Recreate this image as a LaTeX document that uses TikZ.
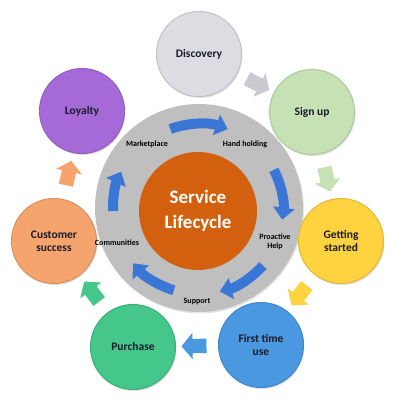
\documentclass[tikz,border=0pt]{standalone}
\usepackage{fontspec}
\setmainfont{Carlito}
\usetikzlibrary{arrows.meta,shapes.arrows,shadows,calc}

\definecolor{discfill}{HTML}{DCDCE2}
\definecolor{signfill}{HTML}{C6E2B5}
\definecolor{startfill}{HTML}{FFD23F}
\definecolor{firstfill}{HTML}{4A98E0}
\definecolor{purchfill}{HTML}{45C68A}
\definecolor{succfill}{HTML}{F6A46E}
\definecolor{loyfill}{HTML}{A56AD8}
\definecolor{ringgray}{HTML}{BFBFBF}
\definecolor{corefill}{HTML}{D2600E}
\definecolor{cycblue}{HTML}{3A76D6}
\definecolor{stagetext}{HTML}{1B1B2A}

\begin{document}
\begin{tikzpicture}[
  x=1pt, y=1pt,
  stage/.style={circle, minimum size=85pt, inner sep=0pt, align=center, line width=1pt,
    font=\fontsize{11.5}{13}\selectfont\bfseries, text=stagetext,
    drop shadow={shadow xshift=1pt, shadow yshift=-1.5pt, opacity=0.25}},
  flow/.style={single arrow, single arrow head extend=6pt, single arrow tip angle=100,
    text height=7pt, text depth=7pt, text width=0pt,
    minimum height=25pt, inner sep=0pt, sloped, allow upside down},
  cyc/.style={line width=10pt, draw=cycblue, -{Triangle[width=21pt, length=12pt]}},
  phase/.style={align=center, font=\fontsize{8}{8.5}\selectfont\bfseries, text=black},
]
  \path[use as bounding box, fill=white] (0,0) rectangle (400,400);

  % hub
  \node[circle, fill=ringgray, minimum size=208pt, inner sep=0pt,
    drop shadow={shadow xshift=1pt, shadow yshift=-1.5pt, opacity=0.2}] (ring) at (199,192) {};
  \node[circle, fill=corefill, minimum size=118pt, inner sep=0pt, align=center,
    font=\fontsize{19}{25}\selectfont\bfseries, text=white] (core) at (198,189) {Service\\Lifecycle};

  % outer stages
  \node[stage, fill=discfill, draw=discfill!88!black] (discovery) at (199,346) {Discovery};
  \node[stage, fill=signfill, draw=signfill!88!black] (signup) at (312,288) {Sign up};
  \node[stage, fill=startfill, draw=startfill!88!black] (started) at (341,159) {Getting\\started};
  \node[stage, fill=firstfill, draw=firstfill!88!black] (firstuse) at (261,55) {First time\\use};
  \node[stage, fill=purchfill, draw=purchfill!88!black] (purchase) at (133,53) {Purchase};
  \node[stage, fill=succfill, draw=succfill!88!black] (success) at (54,159) {Customer\\success};
  \node[stage, fill=loyfill, draw=loyfill!88!black] (loyalty) at (82,289) {Loyalty};

  % block arrows between stages
  \path (discovery) -- node[flow, fill=discfill!92!black] (arrds) {} (signup);
  \path (signup) -- node[flow, fill=signfill] (arrsg) {} (started);
  \path (started) -- node[flow, fill=startfill] (arrgf) {} (firstuse);
  \path (firstuse) -- node[flow, fill=firstfill] (arrfp) {} (purchase);
  \path (purchase) -- node[flow, fill=purchfill] (arrpc) {} (success);
  \path (success) -- node[flow, fill=succfill] (arrcl) {} (loyalty);

  % inner cycle
  \draw[cyc] ($(ring)+(110:84)$) arc[start angle=110, end angle=70, radius=84];
  \draw[cyc] ($(ring)+(27:84)$) arc[start angle=27, end angle=-8, radius=84];
  \draw[cyc] ($(ring)+(-42:86)$) arc[start angle=-42, end angle=-76, radius=86];
  \draw[cyc] ($(ring)+(-107:86)$) arc[start angle=-107, end angle=-140, radius=86];
  \draw[cyc] ($(ring)+(182:86)$) arc[start angle=182, end angle=155, radius=86];

  \node[phase] (market) at (147,256) {Marketplace};
  \node[phase] (handhold) at (245,256) {Hand holding};
  \node[phase] (proactive) at (275,158) {Proactive\\Help};
  \node[phase] (support) at (197,98) {Support};
  \node[phase] (community) at (117,157) {Communities};
\end{tikzpicture}
\end{document}
